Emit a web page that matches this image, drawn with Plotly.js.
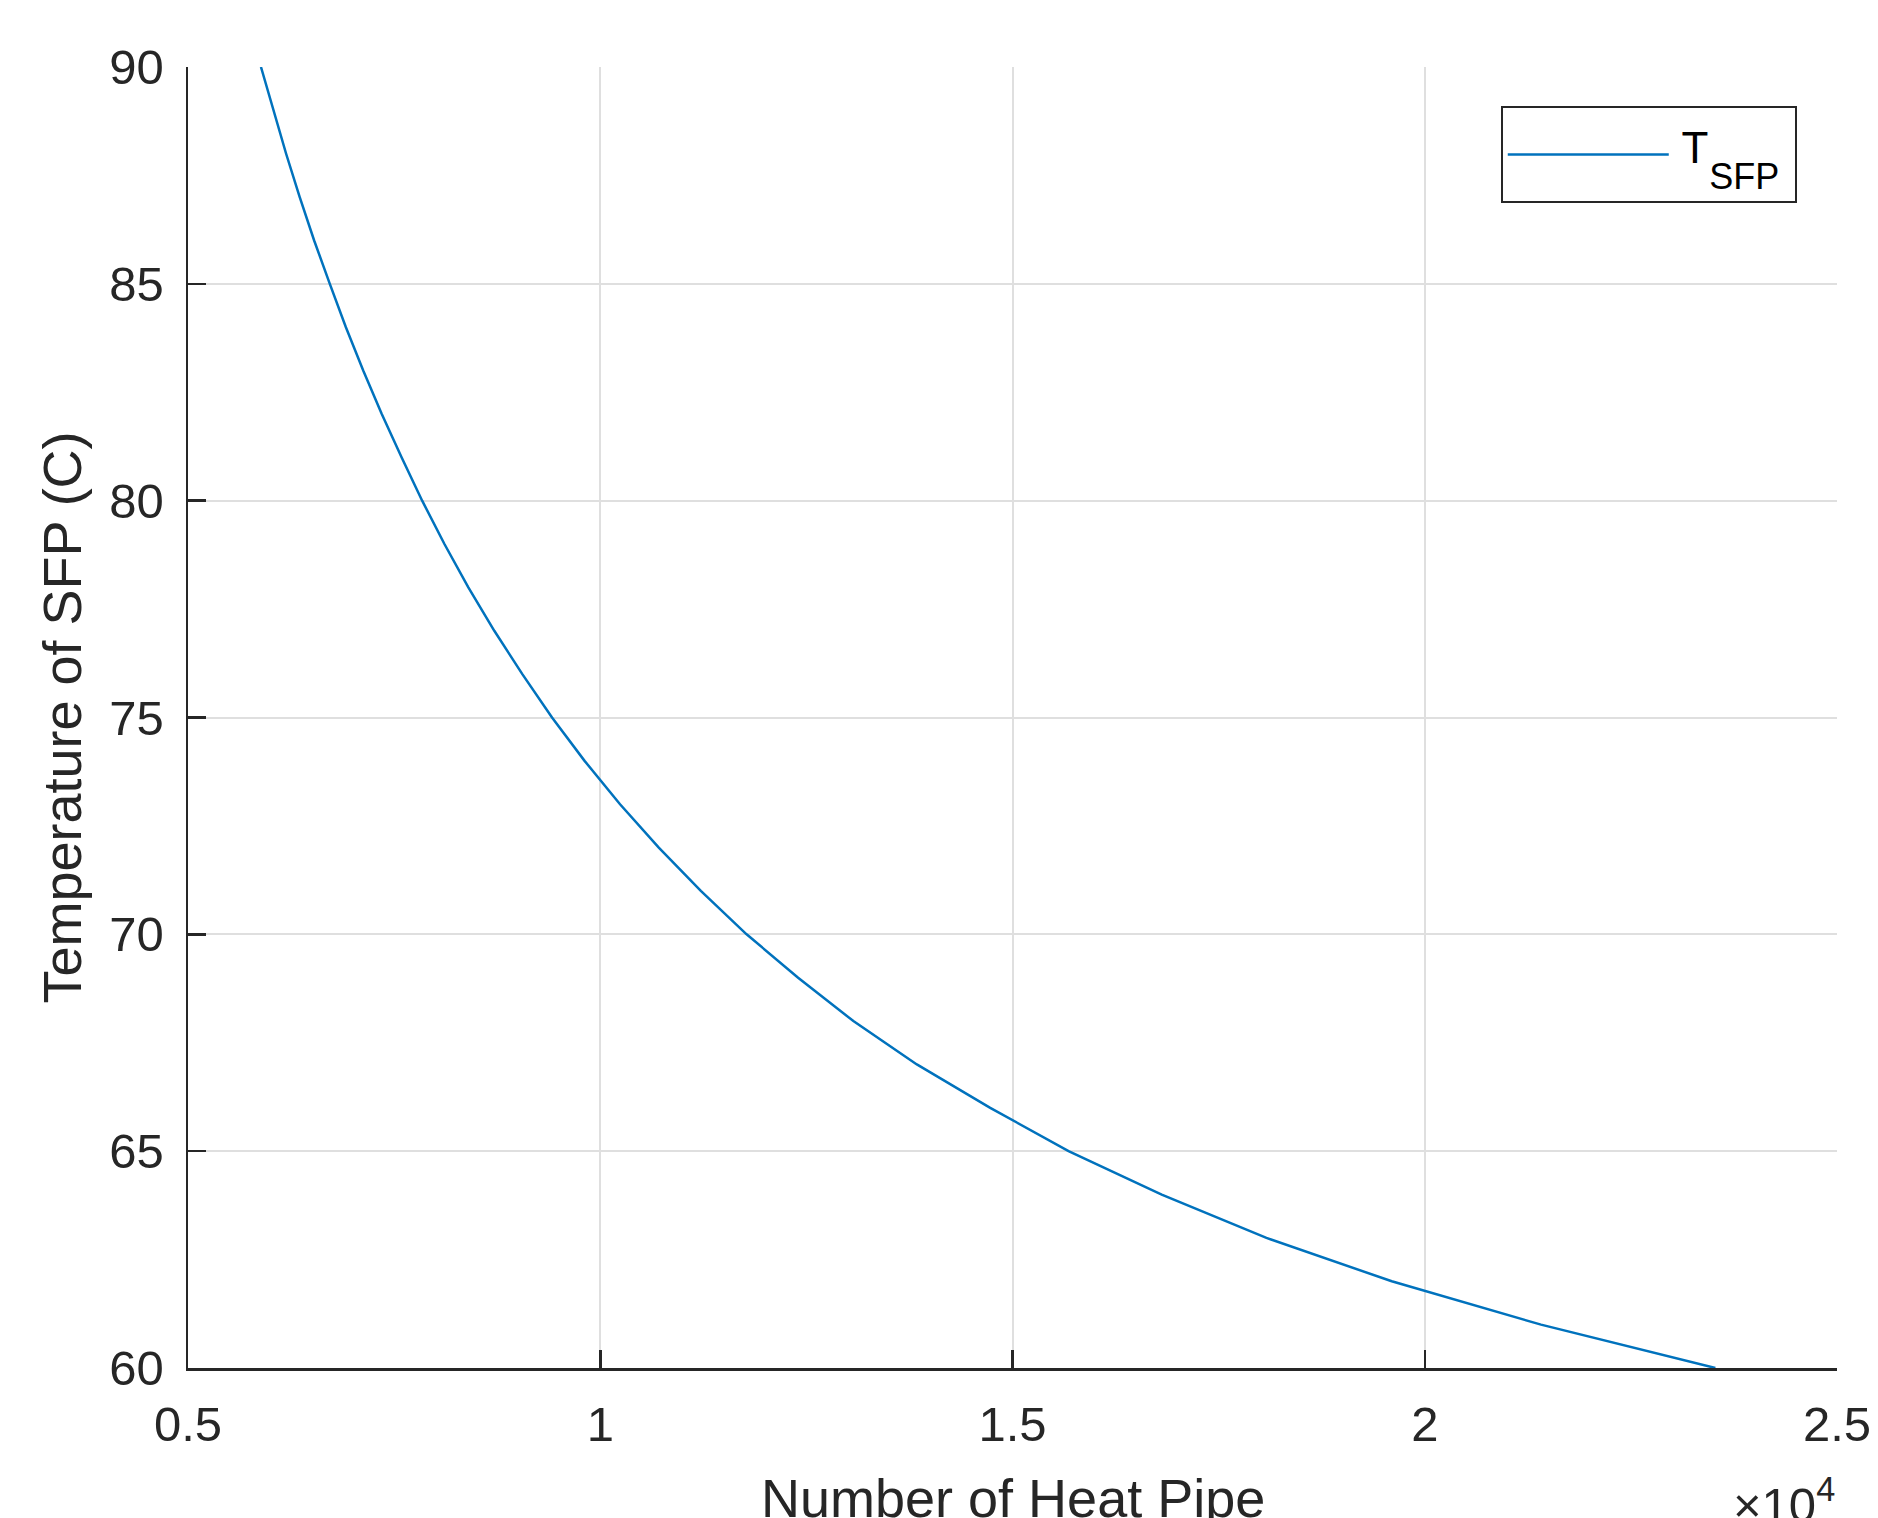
<!DOCTYPE html>
<html>
<head>
<meta charset="utf-8">
<script src="https://cdn.plot.ly/plotly-3.0.1.min.js"></script>
<style>
  html, body { margin: 0; padding: 0; background: #ffffff; }
  #chart { width: 1878px; height: 1518px; }
</style>
</head>
<body>
<div id="chart"></div>
<script>
// Temperature of the spent fuel pool (C), one point per degree
const temperatureC = [90, 89, 88, 87, 86, 85, 84, 83, 82, 81, 80, 79, 78, 77, 76, 75,
                      74, 73, 72, 71, 70, 69, 68, 67, 66, 65, 64, 63, 62, 61, 60];
// Number of heat pipes
const heatPipeCount = [5885, 6035, 6190, 6355, 6530, 6720, 6915, 7125, 7350, 7590, 7840, 8110, 8400, 8715, 9055, 9415,
                       9810, 10240, 10710, 11220, 11775, 12400, 13070, 13840, 14730, 15680, 16810, 18080, 19600, 21410, 23525];

const xTickValues = [5000, 10000, 15000, 20000, 25000];
const xTickLabels = ["0.5", "1", "1.5", "2", "2.5"];
const yTickValues = [60, 65, 70, 75, 80, 85, 90];
const yTickLabels = ["60", "65", "70", "75", "80", "85", "90"];

// legend label T with subscript SFP (laid out on lines so the subscript drops like the original)
const seriesName = "\u00a0<br>" +
  "<span style=\"font-size:28px\">\u00a0</span><span style=\"font-size:44px\">T</span><br>" +
  "<span style=\"font-size:28px\">\u00a0</span><span style=\"font-size:100px\">\u00a0</span>" +
  "<span style=\"font-size:36px\">SFP</span><span style=\"font-size:35px\">\u00a0</span>";
const xTitle = "Number of Heat Pipe";
const yTitle = "Temperature of SFP (C)";
const exponentLabel = "\u00d710<sup>4</sup>";

const ink = "#262626";
const gridColor = "#dfdfdf";
const fontFamily = "Liberation Sans, Arial, Helvetica, sans-serif";

const trace = {
  type: "scatter",
  mode: "lines",
  x: heatPipeCount,
  y: temperatureC,
  name: seriesName,
  line: { color: "#0072BD", width: 2.5 },
  showlegend: true
};

const layout = {
  width: 1878,
  height: 1518,
  margin: { l: 188, r: 41, t: 67, b: 150, pad: 0 },
  paper_bgcolor: "#ffffff",
  plot_bgcolor: "#ffffff",
  font: { family: fontFamily, color: ink, size: 49 },
  showlegend: true,
  legend: {
    x: 0.9756, xanchor: "right",
    y: 0.970, yanchor: "top",
    bgcolor: "#ffffff",
    bordercolor: ink,
    borderwidth: 2,
    font: { family: fontFamily, size: 20.5, color: "#000000" },
    itemwidth: 161,
    valign: "middle",
    tracegroupgap: 0
  },
  xaxis: {
    range: [5000, 25000],
    tickmode: "array",
    tickvals: xTickValues,
    ticktext: xTickLabels,
    ticks: "inside",
    ticklen: 18,
    tickwidth: 2.5,
    tickcolor: ink,
    showline: true,
    linecolor: ink,
    linewidth: 2.5,
    mirror: false,
    showgrid: true,
    gridcolor: gridColor,
    gridwidth: 2,
    zeroline: false,
    automargin: false,
    ticklabelstandoff: 12,
    tickfont: { family: fontFamily, size: 49, color: ink }
  },
  yaxis: {
    range: [60, 90],
    tickmode: "array",
    tickvals: yTickValues,
    ticktext: yTickLabels,
    ticks: "inside",
    ticklen: 18,
    tickwidth: 2.5,
    tickcolor: ink,
    showline: true,
    linecolor: ink,
    linewidth: 2.5,
    mirror: false,
    showgrid: true,
    gridcolor: gridColor,
    gridwidth: 2,
    zeroline: false,
    automargin: false,
    ticklabelstandoff: 12,
    tickfont: { family: fontFamily, size: 49, color: ink },
    title: { text: yTitle, font: { family: fontFamily, size: 54, color: ink }, standoff: 11 }
  },
  annotations: [
    {
      text: xTitle,
      xref: "paper", yref: "paper",
      x: 0.5, xanchor: "center",
      y: -0.0757, yanchor: "top",
      showarrow: false,
      font: { family: fontFamily, size: 54, color: ink }
    },
    {
      text: exponentLabel,
      xref: "paper", yref: "paper",
      x: 1.0, xanchor: "right",
      y: -0.077, yanchor: "top",
      showarrow: false,
      font: { family: fontFamily, size: 49, color: ink }
    }
  ]
};

Plotly.newPlot("chart", [trace], layout, { displayModeBar: false, staticPlot: true });
</script>
</body>
</html>
